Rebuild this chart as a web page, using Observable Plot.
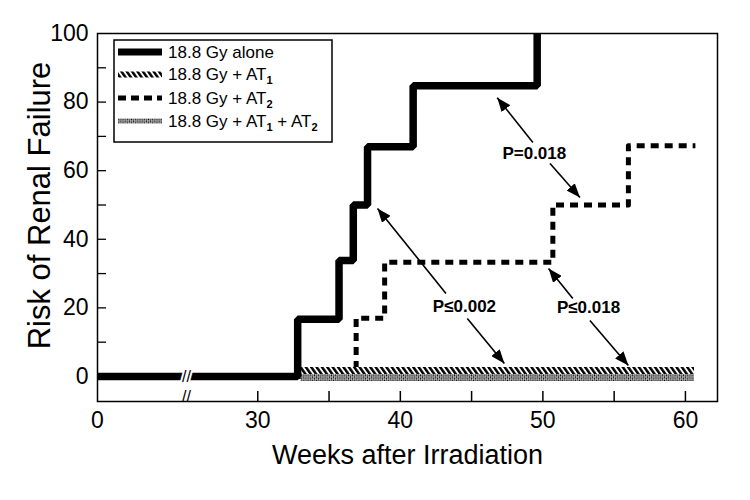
<!DOCTYPE html>
<html><head><meta charset="utf-8">
<script src="https://cdn.jsdelivr.net/npm/d3@7"></script>
<script src="https://cdn.jsdelivr.net/npm/@observablehq/plot@0.6"></script>
<style>
body{margin:0;background:#fff;}
#chart{width:750px;height:500px;}
svg{font-family:"Liberation Sans",Arial,Helvetica,sans-serif;}
</style></head><body><div id="chart"></div>
<script>
// ---- data ----
const aloneWeeks = [0, 32.8, 35.7, 36.7, 37.7, 40.9, 49.6];
const aloneRisk  = [0, 16.7, 33.8, 50, 67, 84.8, 100];
const at1Weeks = [33, 60.6];
const at1Risk  = [0, 0];
const at2Weeks = [0, 36.9, 38.9, 50.7, 56.0, 60.7];
const at2Risk  = [0, 17, 33.3, 50, 67.3, 67.3];
const at12Weeks = [33, 60.6];
const at12Risk  = [0, 0];

const seriesNames = ["18.8 Gy alone", "18.8 Gy + AT_1", "18.8 Gy + AT_2", "18.8 Gy + AT_1 + AT_2"];

const xTickLabels = [0, 30, 40, 50, 60];
const xTicks = [30, 35, 40, 45, 50, 55, 60];
const yTickLabels = [0, 20, 40, 60, 80, 100];
const yTicks = [10, 20, 30, 40, 50, 60, 70, 80, 90];
const axisBreak = 25;

const pLabels = ["P=0.018", "P≤0.002", "P≤0.018"];
const pLabelWeeks = [49.4, 44.5, 53.2];
const pLabelRisk  = [65.0, 20.4, 20.1];
const arrowX1 = [49.3, 50.5, 43.2, 44.7, 52.1, 53.3];
const arrowY1 = [68.2, 62.1, 24.2, 16.9, 22.7, 16.3];
const arrowX2 = [46.8, 52.6, 38.4, 47.3, 50.4, 56.0];
const arrowY2 = [81.3, 52.2, 49.0, 3.8, 31.5, 3.2];

// ---- tables ----
const toRows = (xs, ys) => xs.map((x, i) => ({x, y: ys[i]}));
const alone = toRows(aloneWeeks, aloneRisk);
const at1 = toRows(at1Weeks, at1Risk);
const at2 = toRows(at2Weeks, at2Risk);
const at12 = toRows(at12Weeks, at12Risk);
const labels = pLabels.map((t, i) => ({t, x: pLabelWeeks[i], y: pLabelRisk[i]}));
const arrows = arrowX1.map((x1, i) => ({x1, y1: arrowY1[i], x2: arrowX2[i], y2: arrowY2[i]}));

const font = "Liberation Sans, Arial, Helvetica, sans-serif";

const svg = Plot.plot({
  width: 750, height: 500,
  marginLeft: 97, marginRight: 33, marginTop: 33, marginBottom: 99,
  style: {fontFamily: font, background: "white", color: "black"},
  x: {type: "linear", domain: [0, axisBreak, 62.25], range: [97, 186, 717], label: null},
  y: {domain: [-7.3, 100], label: null},
  marks: [
    Plot.axisX(xTickLabels, {tickSize: 0, tickPadding: 10, fontSize: 23, label: null}),
    Plot.axisX(xTicks, {tickSize: -10, tickFormat: () => "", label: null, strokeWidth: 1.5}),
    Plot.axisY(yTickLabels, {tickSize: 0, tickPadding: 9, fontSize: 23, label: null}),
    Plot.axisY(yTicks, {tickSize: -9, tickFormat: () => "", label: null, strokeWidth: 1.3}),
    Plot.line(at2, {x: "x", y: "y", curve: "step-after", stroke: "black", strokeWidth: 5, strokeDasharray: "8,6", strokeLinecap: "butt"}),
    Plot.line(at1, {x: "x", y: "y", stroke: "url(#hatchAT1)", strokeWidth: 7, dy: -6, strokeLinecap: "butt"}),
    Plot.line(at12, {x: "x", y: "y", stroke: "url(#hatchAT12)", strokeWidth: 7, dy: 1, strokeLinecap: "butt"}),
    Plot.line(alone, {x: "x", y: "y", curve: "step-after", stroke: "black", strokeWidth: 7.5, strokeLinejoin: "miter", strokeLinecap: "butt"}),
    Plot.link(arrows, {x1: "x1", y1: "y1", x2: "x2", y2: "y2", stroke: "black", strokeWidth: 1.6}),
    Plot.text(labels, {x: "x", y: "y", text: "t", fontSize: 17, fontWeight: "bold", fill: "black"}),
    Plot.text(["//"], {x: axisBreak, y: 0, fontSize: 16, fill: "black", stroke: "white", strokeWidth: 4, paintOrder: "stroke"}),
    Plot.text(["//"], {x: axisBreak, frameAnchor: "bottom", fontSize: 16, fill: "black", stroke: "white", strokeWidth: 3, paintOrder: "stroke"}),
    Plot.frame({stroke: "black", strokeWidth: 1.5}),
    Plot.text(["Weeks after Irradiation"], {frameAnchor: "bottom", dy: 62, fontSize: 27, fill: "black"}),
    Plot.text(["Risk of Renal Failure"], {frameAnchor: "left", textAnchor: "middle", dx: -57, dy: -12, rotate: -90, fontSize: 31, fill: "black"})
  ]
});
document.getElementById("chart").appendChild(svg);

// ---- patterns and arrowhead ----
const s = d3.select(svg);
const defs = s.insert("defs", ":first-child");
const p1 = defs.append("pattern").attr("id", "hatchAT1").attr("patternUnits", "userSpaceOnUse")
  .attr("width", 4.4).attr("height", 20).attr("patternTransform", "rotate(-35)");
p1.append("rect").attr("width", 4.4).attr("height", 20).attr("fill", "white");
p1.append("rect").attr("width", 2.5).attr("height", 20).attr("fill", "black");
const p2 = defs.append("pattern").attr("id", "hatchAT12").attr("patternUnits", "userSpaceOnUse")
  .attr("width", 3).attr("height", 3).attr("patternTransform", "rotate(45)");
p2.append("rect").attr("width", 3).attr("height", 3).attr("fill", "white");
p2.append("rect").attr("width", 1.5).attr("height", 1.5).attr("fill", "black");
p2.append("rect").attr("x", 1.5).attr("y", 1.5).attr("width", 1.5).attr("height", 1.5).attr("fill", "black");
defs.append("marker").attr("id", "ahead").attr("viewBox", "0 0 14 11").attr("refX", 14).attr("refY", 5.5)
  .attr("markerWidth", 14).attr("markerHeight", 11).attr("markerUnits", "userSpaceOnUse").attr("orient", "auto")
  .append("path").attr("d", "M0,0L14,5.5L0,11Z").attr("fill", "black");
s.selectAll('g[aria-label="link"] path').attr("marker-end", "url(#ahead)");

// ---- legend ----
const lg = s.append("g").attr("font-family", font).attr("text-anchor", "start");
lg.append("rect").attr("x", 114).attr("y", 40).attr("width", 218).attr("height", 102)
  .attr("fill", "white").attr("stroke", "black").attr("stroke-width", 1.5);
const rowY = [52, 74.5, 98, 121];
const swatch = [
  {stroke: "black", w: 7, dash: null},
  {stroke: "url(#hatchAT1)", w: 6, dash: null},
  {stroke: "black", w: 5, dash: "8,5"},
  {stroke: "url(#hatchAT12)", w: 5, dash: null}
];
seriesNames.forEach((name, i) => {
  const y = rowY[i];
  lg.append("line").attr("x1", 118).attr("x2", 162).attr("y1", y).attr("y2", y)
    .attr("stroke", swatch[i].stroke).attr("stroke-width", swatch[i].w)
    .attr("stroke-dasharray", swatch[i].dash);
  const t = lg.append("text").attr("x", 168).attr("y", y).attr("dy", "0.35em")
    .attr("text-anchor", "start").attr("font-size", 17).attr("fill", "black");
  const parts = name.split(/_(\d)/);
  parts.forEach((p, k) => {
    if (k % 2 === 0) {
      if (p) t.append("tspan").attr("dy", k === 0 ? null : -4).text(p);
    } else {
      t.append("tspan").attr("dy", 4).attr("font-size", 11).attr("font-weight", "bold").text(p);
    }
  });
});
</script></body></html>
